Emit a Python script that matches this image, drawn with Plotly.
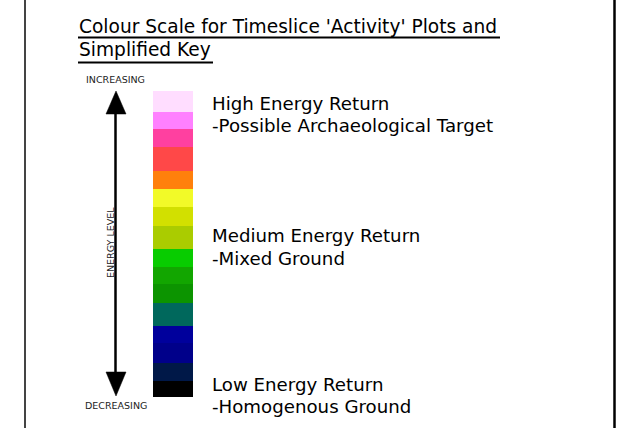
import plotly.graph_objects as go

# ---- data ----
level_colors = ["#FFDDFF", "#FF80FF", "#FF40A0", "#FF4848", "#FF800C", "#F2FA28",
                "#D2E000", "#AACC00", "#08CC00", "#12A600", "#0C9400", "#00685C",
                "#00009C", "#00008A", "#001848", "#000000"]
level_heights = [20.7, 17.6, 18.0, 23.7, 18.3, 17.4, 19.0, 23.0,
                 18.0, 17.3, 19.3, 22.7, 17.3, 20.0, 17.7, 15.7]
title_lines = ["Colour Scale for Timeslice 'Activity' Plots and", "Simplified Key"]
key_lines = [["High Energy Return", "-Possible Archaeological Target"],
             ["Medium Energy Return", "-Mixed Ground"],
             ["Low Energy Return", "-Homogenous Ground"]]
axis_labels = ["INCREASING", "ENERGY LEVEL", "DECREASING"]

W, H = 620, 428
BAR_TOP = 91
BAR_X, BAR_W = 173, 40

bases = []
acc = BAR_TOP
for h in level_heights:
    bases.append(acc)
    acc += h

fig = go.Figure()
fig.add_trace(go.Bar(
    x=[BAR_X] * len(level_heights), y=level_heights, base=bases, width=BAR_W,
    marker=dict(color=level_colors, line=dict(width=0)),
    hoverinfo="skip", showlegend=False))

FONT = "DejaVu Sans"
ann = []
# title
ann.append(dict(x=77, y=26.7, text=title_lines[0], xanchor="left", yanchor="middle",
                font=dict(family=FONT, size=18.6, color="#000")))
ann.append(dict(x=77, y=49.7, text=title_lines[1], xanchor="left", yanchor="middle",
                font=dict(family=FONT, size=18.6, color="#000")))
# key texts
key_y = [(103.3, 125.3), (235.5, 258.0), (384.5, 406.7)]
for (l1, l2), (y1, y2) in zip(key_lines, key_y):
    for t, y in ((l1, y1), (l2, y2)):
        ann.append(dict(x=210, y=y, text=t, xanchor="left", yanchor="middle",
                        font=dict(family=FONT, size=18.2, color="#000")))
# axis labels
ann.append(dict(x=115.5, y=79.5, text=axis_labels[0], xanchor="center", yanchor="middle",
                font=dict(family=FONT, size=9.5, color="#222")))
ann.append(dict(x=110, y=243, text=axis_labels[1], xanchor="center", yanchor="middle",
                textangle=-90, font=dict(family=FONT, size=9.5, color="#222")))
ann.append(dict(x=115.5, y=405, text=axis_labels[2], xanchor="center", yanchor="middle",
                font=dict(family=FONT, size=9.5, color="#222")))
for a in ann:
    a.update(xref="x", yref="y", showarrow=False)

shapes = [
    # border lines
    dict(type="line", xref="x", yref="y", x0=25, x1=25, y0=0, y1=H,
         line=dict(color="#444", width=2)),
    dict(type="line", xref="x", yref="y", x0=614.5, x1=614.5, y0=0, y1=H,
         line=dict(color="#000", width=2.5)),
    # title underlines
    dict(type="line", xref="x", yref="y", x0=78, x1=500, y0=37.5, y1=37.5,
         line=dict(color="#000", width=2)),
    dict(type="line", xref="x", yref="y", x0=78, x1=213, y0=62.5, y1=62.5,
         line=dict(color="#000", width=2)),
    # double arrow
    dict(type="line", xref="x", yref="y", x0=115.5, x1=115.5, y0=108, y1=376,
         line=dict(color="#000", width=2.5)),
    dict(type="path", xref="x", yref="y", path="M 116 91 L 106 114 L 126 114 Z",
         fillcolor="#000", line=dict(color="#000", width=0.5)),
    dict(type="path", xref="x", yref="y", path="M 116 396 L 106 372 L 126 372 Z",
         fillcolor="#000", line=dict(color="#000", width=0.5)),
]

fig.update_layout(
    width=W, height=H, margin=dict(l=0, r=0, t=0, b=0),
    paper_bgcolor="white", plot_bgcolor="white",
    xaxis=dict(range=[0, W], visible=False, fixedrange=True),
    yaxis=dict(range=[H, 0], visible=False, fixedrange=True),
    annotations=ann, shapes=shapes, bargap=0,
)
fig.write_html("out.html", config={"displayModeBar": False},
               post_script="document.body.style.margin='0';document.body.style.overflow='hidden';")
